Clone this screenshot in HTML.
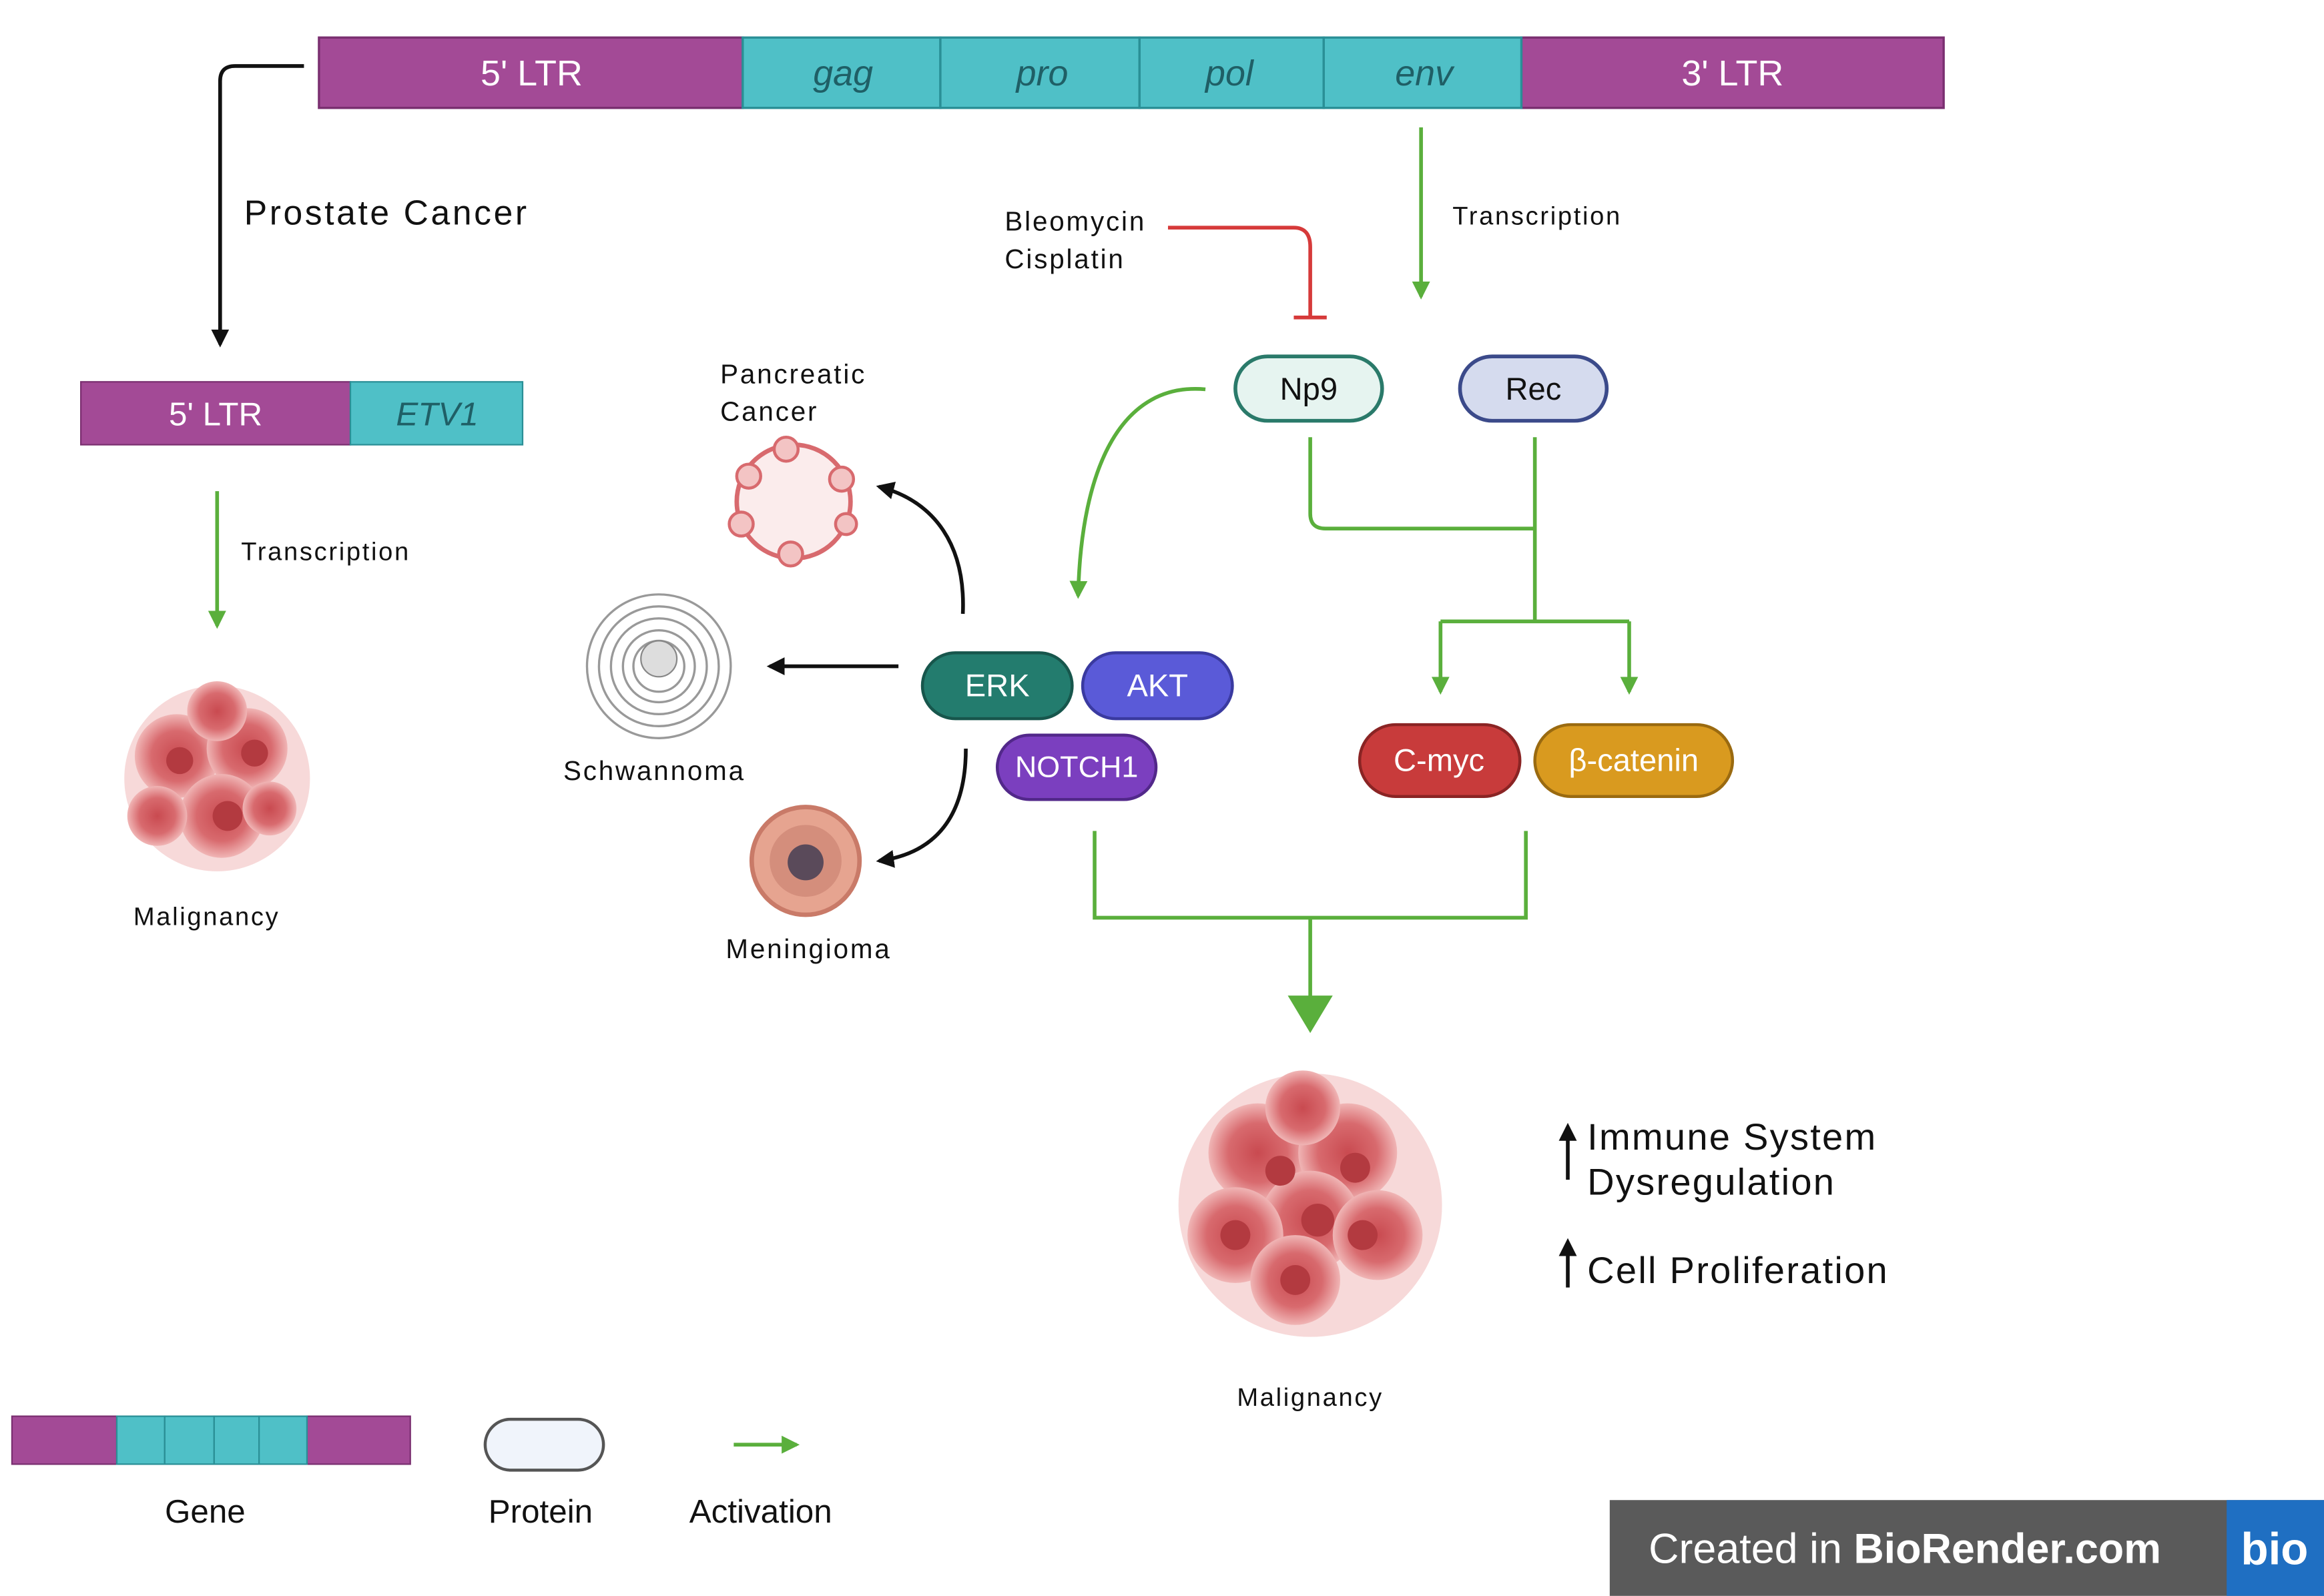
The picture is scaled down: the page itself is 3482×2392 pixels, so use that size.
<!DOCTYPE html>
<html><head><meta charset="utf-8"><style>
html,body{margin:0;padding:0;background:#fff;}
svg{display:block;}
text{font-family:"Liberation Sans",sans-serif;}
.sm{letter-spacing:0.07em;}
</style></head><body>
<svg width="3482" height="2392" viewBox="0 0 1552 1066" xmlns="http://www.w3.org/2000/svg">
<defs>
<marker id="ba" markerWidth="14" markerHeight="14" refX="10" refY="7" orient="auto" markerUnits="userSpaceOnUse"><path d="M0,1 L12,7 L0,13 z" fill="#111"/></marker>
<marker id="gA" markerWidth="14" markerHeight="14" refX="10" refY="7" orient="auto" markerUnits="userSpaceOnUse"><path d="M0,1 L12,7 L0,13 z" fill="#5aaf3c"/></marker>
<radialGradient id="cell" cx="50%" cy="50%" r="50%"><stop offset="0" stop-color="#c94a50"/><stop offset="0.6" stop-color="#d86a6e"/><stop offset="1" stop-color="#f0b5b5"/></radialGradient>
</defs>
<rect width="1552" height="1066" fill="#fff"/>
<g stroke="#7a2f70" stroke-width="1.5">
<rect x="213" y="25" width="283" height="47" fill="#a34a96"/>
<rect x="1016" y="25" width="282" height="47" fill="#a34a96"/>
</g>
<g stroke="#2a8f96" stroke-width="1.5" fill="#4fc0c7">
<rect x="496" y="25" width="132" height="47"/><rect x="628" y="25" width="133" height="47"/>
<rect x="761" y="25" width="123" height="47"/><rect x="884" y="25" width="132" height="47"/>
</g>
<g font-size="24" fill="#fff" text-anchor="middle">
<text x="355" y="57">5' LTR</text><text x="1157" y="57">3' LTR</text>
</g>
<g font-size="24" fill="#1f5f66" text-anchor="middle" font-style="italic">
<text x="563" y="57">gag</text><text x="696" y="57">pro</text><text x="821" y="57">pol</text><text x="951" y="57">env</text>
</g>
<path d="M203,44 H157 Q147,44 147,54 V230" fill="none" stroke="#111" stroke-width="2.5" marker-end="url(#ba)"/>
<text x="163" y="150" font-size="23" fill="#111" class="sm">Prostate Cancer</text>
<rect x="54" y="255" width="180" height="42" fill="#a34a96" stroke="#7a2f70"/>
<rect x="234" y="255" width="115" height="42" fill="#4fc0c7" stroke="#2a8f96"/>
<text x="144" y="284" font-size="22" fill="#fff" text-anchor="middle">5' LTR</text>
<text x="292" y="284" font-size="22" fill="#1f5f66" text-anchor="middle" font-style="italic">ETV1</text>
<path d="M145,328 V418" stroke="#5aaf3c" stroke-width="2.5" marker-end="url(#gA)"/>
<text x="161" y="374" font-size="17" fill="#111" class="sm">Transcription</text>
<g>
<circle cx="145" cy="520" r="62" fill="#f3c9c9" opacity="0.7"/>
<circle cx="118" cy="505" r="28" fill="url(#cell)"/><circle cx="165" cy="500" r="27" fill="url(#cell)"/>
<circle cx="148" cy="545" r="28" fill="url(#cell)"/><circle cx="105" cy="545" r="20" fill="url(#cell)"/>
<circle cx="145" cy="475" r="20" fill="url(#cell)"/><circle cx="180" cy="540" r="18" fill="url(#cell)"/>
<g fill="#b33a40"><circle cx="120" cy="508" r="9"/><circle cx="170" cy="503" r="9"/><circle cx="152" cy="545" r="10"/></g>
</g>
<text x="138" y="618" font-size="17" fill="#111" text-anchor="middle" class="sm">Malignancy</text>
<path d="M949,85 V198" stroke="#5aaf3c" stroke-width="2.5" marker-end="url(#gA)"/>
<text x="970" y="150" font-size="17" fill="#111" class="sm">Transcription</text>
<text x="671" y="154" font-size="18" fill="#111" class="sm">Bleomycin</text>
<text x="671" y="179" font-size="18" fill="#111" class="sm">Cisplatin</text>
<path d="M780,152 H864 Q875,152 875,165 V212" fill="none" stroke="#d63a3a" stroke-width="2.5"/>
<path d="M864,212 H886" stroke="#d63a3a" stroke-width="2.5"/>
<rect x="825" y="238" width="98" height="43" rx="21.5" fill="#e6f4f0" stroke="#2a7a6a" stroke-width="2.5"/>
<text x="874" y="267" font-size="21" fill="#111" text-anchor="middle">Np9</text>
<rect x="975" y="238" width="98" height="43" rx="21.5" fill="#d5dbee" stroke="#3b4a8a" stroke-width="2.5"/>
<text x="1024" y="267" font-size="21" fill="#111" text-anchor="middle">Rec</text>
<g fill="none" stroke="#5aaf3c" stroke-width="2.5">
<path d="M875,292 V343 Q875,353 885,353 H1025"/>
<path d="M1025,292 V415"/>
<path d="M962,415 H1088"/>
<path d="M962,415 V462" marker-end="url(#gA)"/>
<path d="M1088,415 V462" marker-end="url(#gA)"/>
<path d="M805,260 C750,255 722,310 720,398" marker-end="url(#gA)"/>
<path d="M731,555 V613 H1019 V555"/>
<path d="M875,613 V670"/>
</g>
<path d="M860,665 L890,665 L875,690 z" fill="#5aaf3c"/>
<rect x="616" y="436" width="100" height="44" rx="22" fill="#237c6e" stroke="#17564c" stroke-width="2"/>
<text x="666" y="465" font-size="21" fill="#fff" text-anchor="middle">ERK</text>
<rect x="723" y="436" width="100" height="44" rx="22" fill="#5a5ad8" stroke="#3a3aa0" stroke-width="2"/>
<text x="773" y="465" font-size="21" fill="#fff" text-anchor="middle">AKT</text>
<rect x="666" y="491" width="106" height="43" rx="21.5" fill="#7b3fbf" stroke="#52288a" stroke-width="2"/>
<text x="719" y="519" font-size="20" fill="#fff" text-anchor="middle">NOTCH1</text>
<rect x="908" y="484" width="107" height="48" rx="24" fill="#c83b3b" stroke="#8a2424" stroke-width="2"/>
<text x="961" y="515" font-size="21" fill="#fff" text-anchor="middle">C-myc</text>
<rect x="1025" y="484" width="132" height="48" rx="24" fill="#d99a1f" stroke="#9a6a10" stroke-width="2"/>
<text x="1091" y="515" font-size="21" fill="#fff" text-anchor="middle">β-catenin</text>
<g fill="none" stroke="#111" stroke-width="2.5">
<path d="M643,410 C645,365 625,335 587,325" marker-end="url(#ba)"/>
<path d="M600,445 H514" marker-end="url(#ba)"/>
<path d="M645,500 C645,545 625,570 587,575" marker-end="url(#ba)"/>
</g>
<circle cx="530" cy="335" r="38" fill="#fbecec" stroke="#d86a6e" stroke-width="3"/>
<g fill="#f3c4c4" stroke="#d86a6e" stroke-width="2">
<circle cx="500" cy="318" r="8"/><circle cx="525" cy="300" r="8"/><circle cx="562" cy="320" r="8"/><circle cx="565" cy="350" r="7"/><circle cx="528" cy="370" r="8"/><circle cx="495" cy="350" r="8"/>
</g>
<text x="481" y="256" font-size="18" fill="#111" class="sm">Pancreatic</text>
<text x="481" y="281" font-size="18" fill="#111" class="sm">Cancer</text>
<g fill="none" stroke="#999" stroke-width="1.5">
<circle cx="440" cy="445" r="48"/><circle cx="440" cy="445" r="40"/><circle cx="440" cy="445" r="32"/><circle cx="440" cy="445" r="24"/><circle cx="440" cy="445" r="17"/>
</g>
<circle cx="440" cy="440" r="12" fill="#ddd" stroke="#888"/>
<text x="437" y="521" font-size="18" fill="#111" text-anchor="middle" class="sm">Schwannoma</text>
<circle cx="538" cy="575" r="36" fill="#e6a490" stroke="#c97a68" stroke-width="3"/>
<circle cx="538" cy="575" r="24" fill="#d48e7c"/>
<circle cx="538" cy="576" r="12" fill="#5a4a5a"/>
<text x="540" y="640" font-size="18" fill="#111" text-anchor="middle" class="sm">Meningioma</text>
<g>
<circle cx="875" cy="805" r="88" fill="#f3c9c9" opacity="0.7"/>
<circle cx="840" cy="770" r="33" fill="url(#cell)"/><circle cx="900" cy="770" r="33" fill="url(#cell)"/>
<circle cx="875" cy="815" r="33" fill="url(#cell)"/><circle cx="825" cy="825" r="32" fill="url(#cell)"/>
<circle cx="920" cy="825" r="30" fill="url(#cell)"/><circle cx="865" cy="855" r="30" fill="url(#cell)"/>
<circle cx="870" cy="740" r="25" fill="url(#cell)"/>
<g fill="#b33a40"><circle cx="855" cy="782" r="10"/><circle cx="905" cy="780" r="10"/><circle cx="880" cy="815" r="11"/><circle cx="825" cy="825" r="10"/><circle cx="910" cy="825" r="10"/><circle cx="865" cy="855" r="10"/></g>
</g>
<text x="875" y="939" font-size="17" fill="#111" text-anchor="middle" class="sm">Malignancy</text>
<g stroke="#111" stroke-width="2.5"><path d="M1047,788 V758"/><path d="M1047,860 V835"/></g>
<path d="M1041,762 L1047,750 L1053,762 z" fill="#111"/><path d="M1041,839 L1047,827 L1053,839 z" fill="#111"/>
<g font-size="25" fill="#111" letter-spacing="0.04em"><text x="1060" y="768">Immune System</text><text x="1060" y="798">Dysregulation</text><text x="1060" y="857">Cell Proliferation</text></g>
<rect x="8" y="946" width="70" height="32" fill="#a34a96" stroke="#7a2f70"/>
<rect x="205" y="946" width="69" height="32" fill="#a34a96" stroke="#7a2f70"/>
<g fill="#4fc0c7" stroke="#2a8f96"><rect x="78" y="946" width="32" height="32"/><rect x="110" y="946" width="33" height="32"/><rect x="143" y="946" width="30" height="32"/><rect x="173" y="946" width="32" height="32"/></g>
<rect x="324" y="948" width="79" height="34" rx="17" fill="#f0f4fb" stroke="#555" stroke-width="2"/>
<path d="M490,965 H532" stroke="#5aaf3c" stroke-width="2.5" marker-end="url(#gA)"/>
<g font-size="22" fill="#111" text-anchor="middle"><text x="137" y="1017">Gene</text><text x="361" y="1017">Protein</text><text x="508" y="1017">Activation</text></g>
<rect x="1075" y="1002" width="477" height="64" fill="#5a5a5a"/>
<rect x="1487" y="1002" width="65" height="64" fill="#1f6fc2"/>
<text x="1101" y="1044" font-size="28" fill="#fff">Created in <tspan font-weight="bold">BioRender.com</tspan></text>
<text x="1519" y="1045" font-size="30" fill="#fff" font-weight="bold" text-anchor="middle">bio</text>
</svg>
</body></html>
